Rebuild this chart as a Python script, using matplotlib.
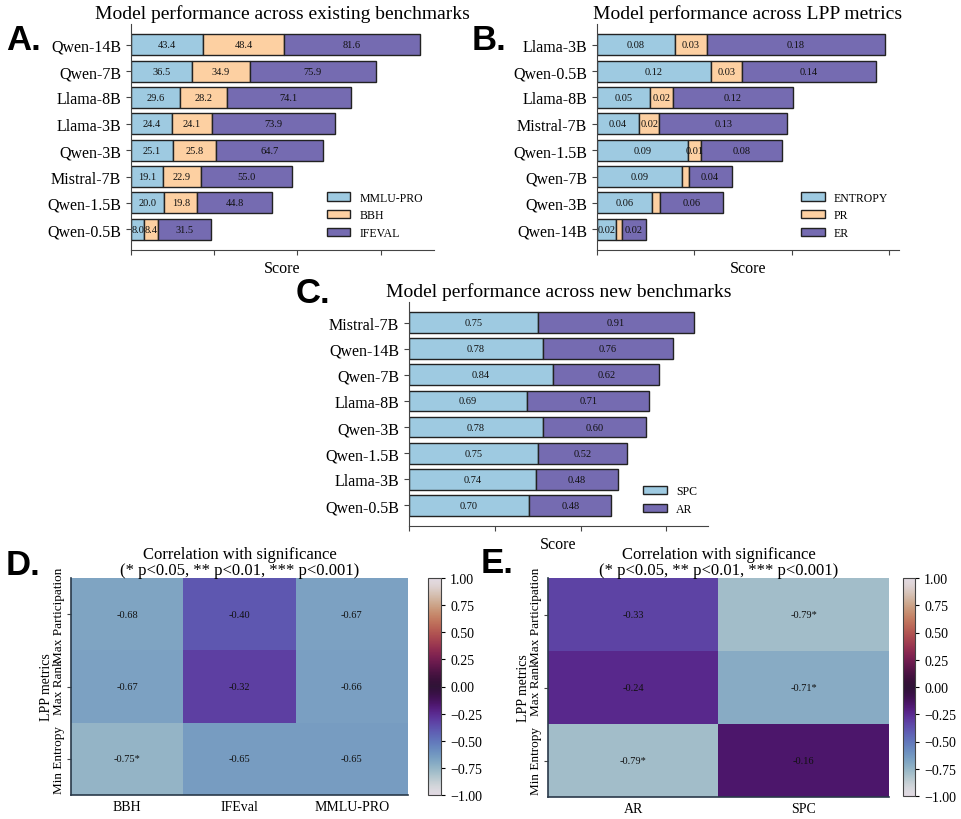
import matplotlib
matplotlib.use("Agg")
import matplotlib.pyplot as plt
import numpy as np

plt.rcParams['font.family'] = ['Liberation Serif', 'DejaVu Serif']

# Panel A - existing benchmarks
models_a = ["Qwen-14B", "Qwen-7B", "Llama-8B", "Llama-3B", "Qwen-3B", "Mistral-7B", "Qwen-1.5B", "Qwen-0.5B"]
mmlu_pro = [43.4, 36.5, 29.6, 24.4, 25.1, 19.1, 20.0, 8.0]
bbh = [48.4, 34.9, 28.2, 24.1, 25.8, 22.9, 19.8, 8.4]
ifeval = [81.6, 75.9, 74.1, 73.9, 64.7, 55.0, 44.8, 31.5]

# Panel B - LPP metrics
models_b = ["Llama-3B", "Qwen-0.5B", "Llama-8B", "Mistral-7B", "Qwen-1.5B", "Qwen-7B", "Qwen-3B", "Qwen-14B"]
entropy = [0.080, 0.117, 0.054, 0.043, 0.093, 0.087, 0.056, 0.019]
pr = [0.033, 0.032, 0.024, 0.021, 0.014, 0.007, 0.009, 0.007]
er = [0.182, 0.137, 0.123, 0.131, 0.083, 0.044, 0.064, 0.024]

# Panel C - new benchmarks
models_c = ["Mistral-7B", "Qwen-14B", "Qwen-7B", "Llama-8B", "Qwen-3B", "Qwen-1.5B", "Llama-3B", "Qwen-0.5B"]
spc = [0.75, 0.78, 0.84, 0.69, 0.78, 0.75, 0.74, 0.70]
ar = [0.91, 0.76, 0.62, 0.71, 0.60, 0.52, 0.48, 0.48]

# Panels D / E - correlations
lpp_rows = ["Max Participation", "Max Rank", "Min Entropy"]
cols_d = ["BBH", "IFEval", "MMLU-PRO"]
corr_d = [[-0.68, -0.40, -0.67],
          [-0.67, -0.32, -0.66],
          [-0.75, -0.65, -0.65]]
stars_d = [["", "", ""], ["", "", ""], ["*", "", ""]]
cols_e = ["AR", "SPC"]
corr_e = [[-0.33, -0.79],
          [-0.24, -0.71],
          [-0.79, -0.16]]
stars_e = [["", "*"], ["", "*"], ["*", ""]]

c_blue = "#9ecae1"
c_orange = "#fdd0a2"
c_purple = "#756bb1"
spine_c = "#444444"

W, H = 962, 820
fig = plt.figure(figsize=(9.62, 8.2), dpi=100)


def px_axes(l, t, r, b):
    return fig.add_axes([l / W, 1 - b / H, (r - l) / W, (b - t) / H])


def stacked(ax, models, series, names, colors, title, xstep, min_label):
    y = np.arange(len(models))[::-1]
    left = np.zeros(len(models))
    for vals, name, col in zip(series, names, colors):
        vals = np.array(vals)
        bars = ax.barh(y, vals, left=left, color=col, edgecolor="#222222",
                       linewidth=1.0, height=0.8, label=name)
        for rect, v in zip(bars, vals):
            if v >= min_label:
                txt = f"{v:.1f}" if xstep >= 1 else f"{v:.2f}"
                ax.text(rect.get_x() + rect.get_width() / 2, rect.get_y() + rect.get_height() / 2,
                        txt, ha="center", va="center", fontsize=7.5, color="#111111")
        left = left + vals
    ax.set_yticks(y)
    ax.set_yticklabels(models, fontsize=11.5)
    ax.xaxis.set_major_locator(matplotlib.ticker.MultipleLocator(xstep))
    ax.set_xticklabels([])
    ax.set_xlabel("Score", fontsize=11.5, labelpad=0)
    ax.set_title(title, fontsize=14, pad=4)
    for s in ["top", "right"]:
        ax.spines[s].set_visible(False)
    for s in ["left", "bottom"]:
        ax.spines[s].set_color(spine_c)
    ax.tick_params(colors=spine_c, labelcolor="black")
    ax.legend(loc="lower right", frameon=False, fontsize=8.5, bbox_to_anchor=(1.0, 0.0))


ax_a = px_axes(131, 25, 434, 251)
stacked(ax_a, models_a, [mmlu_pro, bbh, ifeval], ["MMLU-PRO", "BBH", "IFEVAL"],
        [c_blue, c_orange, c_purple], "Model performance across existing benchmarks", 50, 0)

ax_b = px_axes(597, 25, 899, 251)
stacked(ax_b, models_b, [entropy, pr, er], ["ENTROPY", "PR", "ER"],
        [c_blue, c_orange, c_purple], "Model performance across LPP metrics", 0.1, 0.01)

ax_c = px_axes(409, 303, 708, 527)
stacked(ax_c, models_c, [spc, ar], ["SPC", "AR"],
        [c_blue, c_purple], "Model performance across new benchmarks", 0.5, 0)


def heat(ax, cax, data, stars, cols):
    data = np.array(data)
    im = ax.imshow(data, cmap="twilight", vmin=-1, vmax=1, aspect="auto")
    for i in range(data.shape[0]):
        for j in range(data.shape[1]):
            ax.text(j, i, f"{data[i, j]:.2f}".replace("\u2212", "-") + stars[i][j],
                    ha="center", va="center", fontsize=7.5, color="#111111")
    ax.set_xticks(range(len(cols)))
    ax.set_xticklabels(cols, fontsize=10)
    ax.set_yticks(range(len(lpp_rows)))
    ax.set_yticklabels(lpp_rows, fontsize=9.5, rotation=90, va="center")
    ax.set_ylabel("LPP metrics", fontsize=10, labelpad=0)
    ax.set_title("Correlation with significance\n(* p<0.05, ** p<0.01, *** p<0.001)",
                 fontsize=12, pad=3, linespacing=0.95)
    for s in ["top", "right"]:
        ax.spines[s].set_visible(False)
    for s in ["left", "bottom"]:
        ax.spines[s].set_color("#2a3a4a")
        ax.spines[s].set_linewidth(1.2)
    ax.tick_params(axis="x", length=0)
    ax.tick_params(axis="y", length=3, pad=1.5, color=spine_c)
    cb = fig.colorbar(im, cax=cax)
    cb.set_ticks(np.arange(-1, 1.01, 0.25))
    cb.ax.tick_params(labelsize=10, length=3)
    cb.outline.set_edgecolor(spine_c)


ax_d = px_axes(71, 579, 408, 796)
cax_d = px_axes(428, 579, 441, 796)
heat(ax_d, cax_d, corr_d, stars_d, cols_d)

ax_e = px_axes(548, 579, 889, 798)
cax_e = px_axes(903, 579, 915, 797)
heat(ax_e, cax_e, corr_e, stars_e, cols_e)

# Panel letters
for lab, x, y in [("A.", 6, 50), ("B.", 472, 50), ("C.", 296, 303), ("D.", 6, 575), ("E.", 481, 573)]:
    fig.text(x / W, 1 - y / H, lab, fontsize=25, fontweight="bold",
             family=["Liberation Sans", "DejaVu Sans"], va="baseline", ha="left")

fig.savefig("out.png", dpi=100)
